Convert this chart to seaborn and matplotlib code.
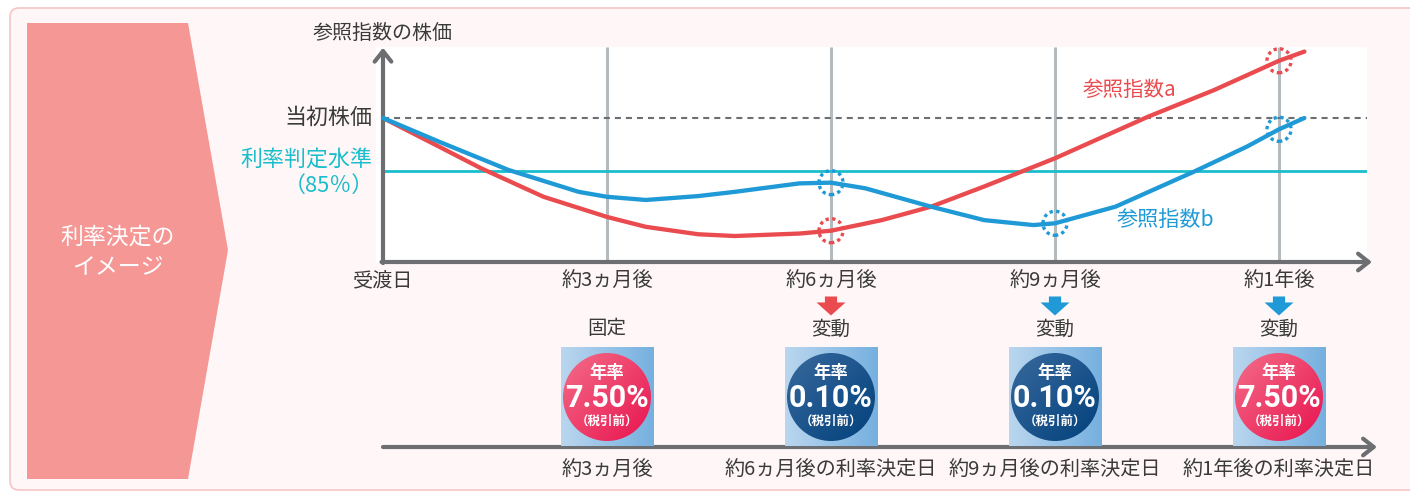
import numpy as np
import matplotlib
matplotlib.use("Agg")
import matplotlib.pyplot as plt
import seaborn as sns
from matplotlib.patches import Polygon, FancyBboxPatch, Circle
from matplotlib.path import Path
from matplotlib.colors import LinearSegmentedColormap

sns.set_theme(style="white")
plt.rcParams["font.family"] = ["Noto Sans CJK JP", "DejaVu Sans"]

# values: months after delivery, index price in % of initial
months_a = [0, 0.75, 1.31, 2.15, 3.0, 3.52, 4.22, 4.71, 5.58, 6.0, 6.68, 7.34,
            8.05, 9.0, 10.25, 11.13, 12.0, 12.34]
index_a = [100, 91.9, 85.8, 77.7, 72.0, 69.2, 67.1, 66.6, 67.3, 68.1, 71.1, 74.9,
           80.6, 88.6, 100.4, 107.9, 116.2, 118.8]
months_b = [0, 0.75, 1.68, 2.62, 3.0, 3.52, 4.22, 4.71, 5.58, 6.0, 6.46, 7.34,
            8.05, 8.71, 9.0, 9.81, 10.86, 11.57, 12.0, 12.34]
index_b = [100, 93.3, 85.3, 79.1, 77.7, 76.8, 77.9, 79.1, 81.5, 81.7, 80.1, 74.9,
           71.1, 69.7, 70.2, 74.9, 84.8, 91.9, 96.8, 100.0]
initial_level = 100
threshold = 85

time_months = [0, 3, 6, 9, 12]
time_labels = ["受渡日", "約3ヵ月後", "約6ヵ月後", "約9ヵ月後", "約1年後"]
check_months = [3, 6, 9, 12]
decision_labels = ["約3ヵ月後", "約6ヵ月後の利率決定日", "約9ヵ月後の利率決定日", "約1年後の利率決定日"]
rate_types = ["固定", "変動", "変動", "変動"]
rates = ["7.50%", "0.10%", "0.10%", "7.50%"]
rate_high = [True, False, False, True]
arrow_months = [6, 9, 12]
arrow_series = ["a", "b", "b"]

mark_months = [6, 6, 9, 12, 12]
mark_values = [68.1, 81.7, 70.2, 116.2, 96.8]
mark_series = ["a", "b", "b", "a", "b"]

RED = "#E94B4E"
BLUE = "#1F9AD6"
CYAN = "#19BDCB"
GREY = "#6D6E71"
TXT = "#3A3A3A"
col = {"a": RED, "b": BLUE}

W, H = 1410, 492
fig = plt.figure(figsize=(W / 100, H / 100), dpi=100, facecolor="white")

# background, frame and left label panel
bg = fig.add_axes([0, 0, 1, 1])
bg.set_xlim(0, W)
bg.set_ylim(H, 0)
bg.axis("off")
bg.add_patch(FancyBboxPatch((10, 8), 1440, 482, boxstyle="round,pad=0,rounding_size=9",
                            fc="#FFF7F7", ec="#F6C4C4", lw=1.2))
bg.add_patch(Polygon([(27, 23), (188, 23), (228, 250), (188, 479), (27, 479)],
                     closed=True, fc="#F49795", ec="none"))
bg.text(118, 237, "利率決定の", color="white", fontsize=16.5, ha="center", va="center")
bg.text(118, 268, "イメージ", color="white", fontsize=16.5, ha="center", va="center")

# pixel calibration of the chart area
x0px, x12px = 383, 1279
ppm = (x12px - x0px) / 12
left_px, right_px, top_px, bot_px = 376, 1367, 47, 262
y100px, y85px = 118, 171
ppp = (y85px - y100px) / 15
xlim = ((left_px - x0px) / ppm, (right_px - x0px) / ppm)
ylim = (100 - (bot_px - y100px) / ppp, 100 + (y100px - top_px) / ppp)

ax = fig.add_axes([left_px / W, 1 - bot_px / H, (right_px - left_px) / W, (bot_px - top_px) / H])
ax.set_facecolor("white")

ax.vlines(check_months, ylim[0], ylim[1], color="#B4BBBF", lw=2.2, zorder=1)
ax.hlines(initial_level, 0, xlim[1], color=GREY, lw=1.5, linestyles=(0, (2.9, 2.4)), zorder=2)
ax.hlines(threshold, 0, xlim[1], color=CYAN, lw=2.0, zorder=2)

sns.lineplot(x=months_a, y=index_a, ax=ax, color=RED, lw=3.1, estimator=None, sort=False, zorder=3)
sns.lineplot(x=months_b, y=index_b, ax=ax, color=BLUE, lw=3.1, estimator=None, sort=False, zorder=4)

for m, v, s in zip(mark_months, mark_values, mark_series):
    ax.scatter([m], [v], s=300, facecolors="none", edgecolors=col[s], linewidths=2.4,
               linestyles=(0, (1.0, 1.0)), zorder=5, clip_on=False)

ax.set_xlim(*xlim)
ax.set_ylim(*ylim)
ax.set_xticks([])
ax.set_yticks([])
ax.set_xlabel("")
ax.set_ylabel("")
for sp in ax.spines.values():
    sp.set_visible(False)

arrow_kw = dict(arrowstyle="->,head_length=0.38,head_width=0.3", color=GREY, lw=3.0,
                shrinkA=0, shrinkB=0, mutation_scale=20)
ax.annotate("", xy=((1372 - x0px) / ppm, ylim[0]), xytext=(-0.02, ylim[0]),
            arrowprops=arrow_kw, annotation_clip=False)
ax.annotate("", xy=(0, ylim[1] - 0.2), xytext=(0, ylim[0] - 0.3),
            arrowprops=arrow_kw, annotation_clip=False)

ax.text(0, 100 + (y100px - 33) / ppp, "参照指数の株価", color=TXT, fontsize=14.4,
        ha="center", va="center", clip_on=False)
ax.text((372 - x0px) / ppm, initial_level, "当初株価", color=TXT, fontsize=15.8,
        ha="right", va="center", clip_on=False)
ax.text((372 - x0px) / ppm, 100 - (160 - y100px) / ppp, "利率判定水準", color=CYAN,
        fontsize=15.8, ha="right", va="center", clip_on=False)
ax.text((374 - x0px) / ppm, 100 - (186 - y100px) / ppp, "（85％）", color=CYAN,
        fontsize=15.8, ha="right", va="center", clip_on=False)
ax.text(9.37, 107.9, "参照指数a", color=RED, fontsize=14.8, ha="left", va="center")
ax.text(9.83, 71.1, "参照指数b", color=BLUE, fontsize=15.2, ha="left", va="center")

# lower band: rate decisions
axb = fig.add_axes([left_px / W, 0, (right_px - left_px) / W, 1 - bot_px / H])
axb.set_xlim(*xlim)
axb.set_ylim(0, H - bot_px)
axb.axis("off")
axb.patch.set_alpha(0)


def row(r):
    return H - r


for m, lab in zip(time_months, time_labels):
    axb.text(m, row(281), lab, color=TXT, fontsize=14.5, ha="center", va="center")

arrow_marker = Path([(-0.42, 0.655), (0.42, 0.655), (0.42, 0.245), (1, 0.245),
                     (0, -0.655), (-1, 0.245), (-0.42, 0.245), (-0.42, 0.655)], closed=True)
axb.scatter(arrow_months, [row(306)] * len(arrow_months), marker=arrow_marker, s=436,
            c=[col[s] for s in arrow_series], linewidths=0, zorder=3)

box_cmap = LinearSegmentedColormap.from_list("box", ["#BAD6EF", "#76B0DF"])
hi_cmap = LinearSegmentedColormap.from_list("hi", ["#F4708A", "#E8104D"])
lo_cmap = LinearSegmentedColormap.from_list("lo", ["#3A6B9F", "#003F7A"])
gx = np.linspace(0, 1, 64)[None, :]
gd = (np.linspace(0, 1, 64)[None, :] + np.linspace(0, 1, 64)[:, None]) / 2

bw_px, bh_px = 93, 99
bw = bw_px / ppm
for m, kind, rate, high in zip(check_months, rate_types, rates, rate_high):
    axb.text(m, row(329), kind, color=TXT, fontsize=14, ha="center", va="center")
    ins = axb.inset_axes([m - bw / 2, row(446), bw, bh_px], transform=axb.transData)
    ins.axis("off")
    ins.imshow(gx, extent=(0, bw_px, 0, bh_px), cmap=box_cmap, aspect="auto")
    circ = Circle((bw_px / 2, 49), 44, transform=ins.transData)
    im = ins.imshow(gd, extent=(0, bw_px, 0, bh_px), cmap=hi_cmap if high else lo_cmap,
                    aspect="auto")
    im.set_clip_path(circ)
    ins.set_xlim(0, bw_px)
    ins.set_ylim(0, bh_px)
    ins.text(bw_px / 2, 73, "年率", color="white", fontsize=12.5, fontweight="bold",
             ha="center", va="center")
    ins.text(bw_px / 2, 48, rate, color="white", fontsize=22, fontweight="bold",
             family=["Roboto", "DejaVu Sans"], ha="center", va="center")
    ins.text(bw_px / 2, 25, "（税引前）", color="white", fontsize=9, fontweight="bold",
             ha="center", va="center")

axb.annotate("", xy=((1377 - x0px) / ppm, row(447)), xytext=(0, row(447)),
             arrowprops=arrow_kw, annotation_clip=False)
for m, lab in zip(check_months, decision_labels):
    axb.text(m, row(470), lab, color=TXT, fontsize=14.5, ha="center", va="center")

fig.savefig("out.png", dpi=100, facecolor=fig.get_facecolor())
